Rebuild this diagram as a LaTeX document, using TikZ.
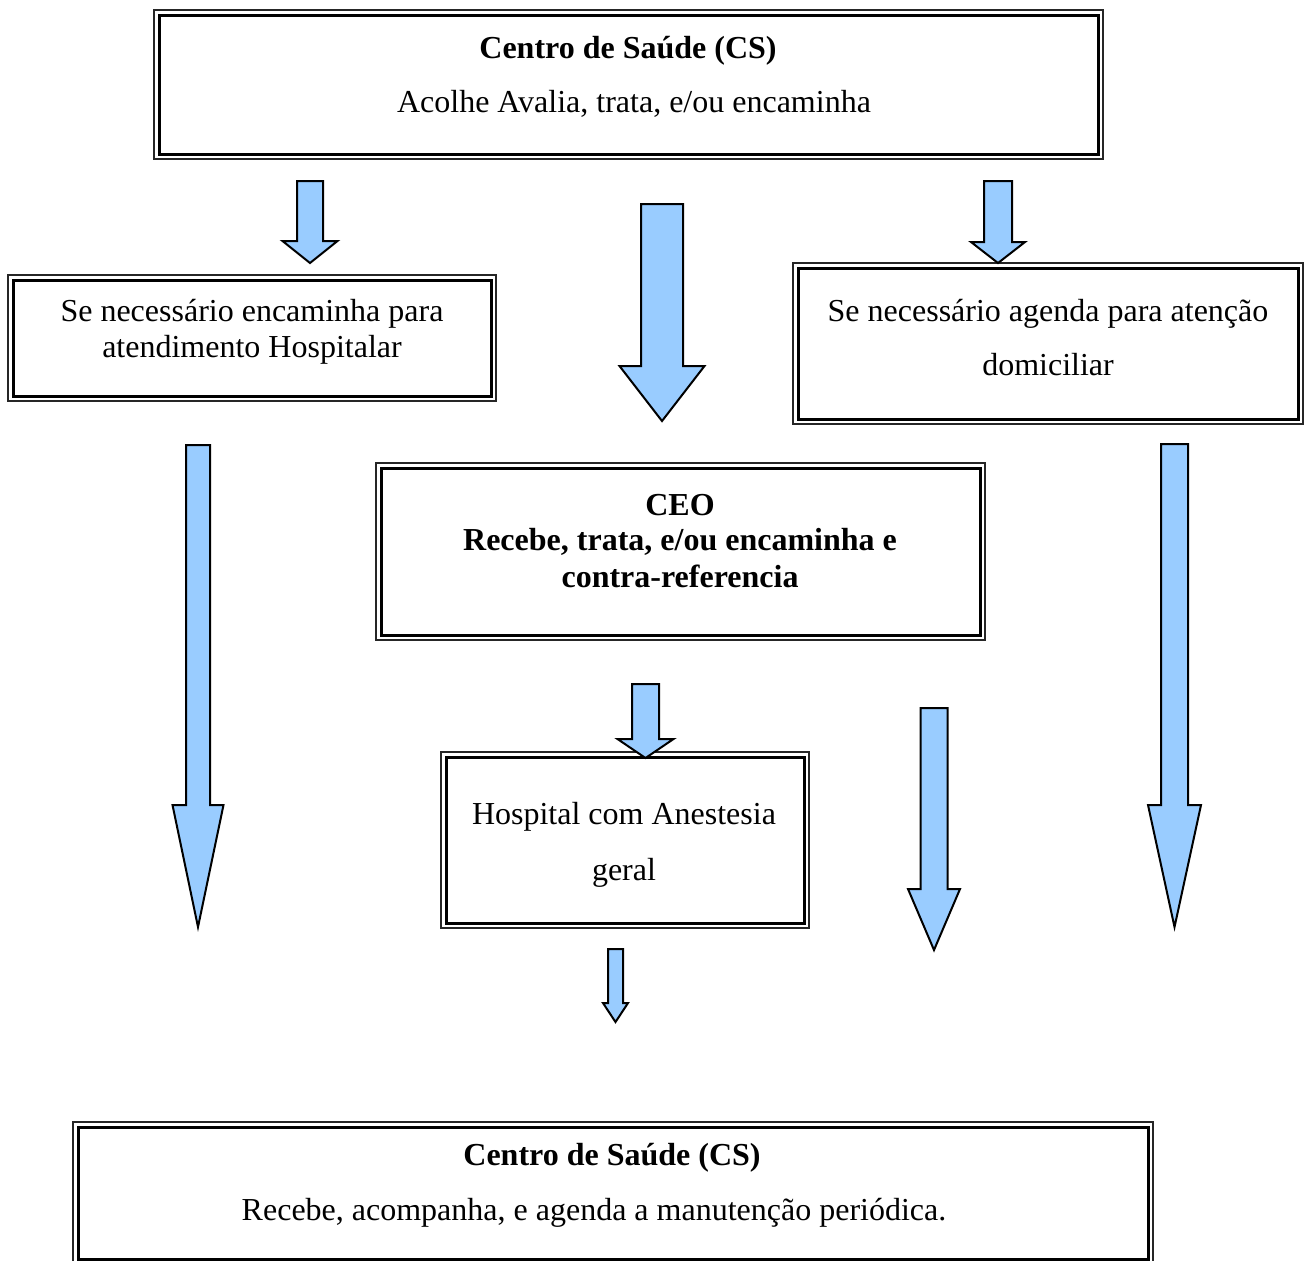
\documentclass[tikz,border=0pt]{standalone}
\usepackage{fontspec}
\setmainfont{Liberation Serif}
\usetikzlibrary{fit}
\definecolor{arrowblue}{HTML}{99CCFF}
\tikzset{
  frame/.style={draw=black!85, line width=1pt, inner sep=0pt},
  innerframe/.style={draw=black, line width=1.5pt},
  txt/.style={anchor=base, inner sep=0pt, font=\fontsize{16pt}{19pt}\selectfont},
  btxt/.style={anchor=base, inner sep=0pt, font=\fontsize{16pt}{19pt}\selectfont\bfseries},
  blockarrow/.style={fill=arrowblue, draw=black, line width=1pt, line join=miter},
}
% block arrow pointing down: centre x, top y, half shaft, half head, head start y, tip y
\newcommand\downblock[7]{%
  \draw[blockarrow] ({#2-#4},#3) -- ({#2+#4},#3) -- ({#2+#4},#6) -- ({#2+#5},#6)
    -- (#2,#7) coordinate (#1) -- ({#2-#5},#6) -- ({#2-#4},#6) -- cycle;}
\begin{document}
\begin{tikzpicture}[x=0.5pt,y=-0.5pt]
\useasboundingbox[fill=white] (0,0) rectangle (1304,1260);

% framed boxes
\node[frame, fit={(154,10) (1103,159)}] (cs1) {};
\node[frame, fit={(8,275) (496,401)}] (hosp) {};
\node[frame, fit={(793,263) (1303,424)}] (dom) {};
\node[frame, fit={(376,463) (985,640)}] (ceo) {};
\node[frame, fit={(441,752) (809,928)}] (anest) {};
\node[frame, fit={(73,1122) (1153,1264)}] (cs2) {};
\foreach \n in {cs1,hosp,dom,ceo,anest,cs2}
  \draw[innerframe] ([shift={(3pt,-3pt)}]\n.north west) rectangle ([shift={(-3pt,3pt)}]\n.south east);

% texts
\node[btxt] (cs1a) at (628,58) {Centro de Saúde (CS)};
\node[txt] (cs1b) at (634,112) {Acolhe Avalia, trata, e/ou encaminha};
\node[txt] (hospa) at (252,321) {Se necessário encaminha para};
\node[txt] (hospb) at (252,357) {atendimento Hospitalar};
\node[txt] (doma) at (1048,321) {Se necessário agenda para atenção};
\node[txt] (domb) at (1048,375) {domiciliar};
\node[btxt] (ceoa) at (680,515) {CEO};
\node[btxt] (ceob) at (680,550) {Recebe, trata, e/ou encaminha e};
\node[btxt] (ceoc) at (680,587) {contra-referencia};
\node[txt] (anesta) at (624,824) {Hospital com Anestesia};
\node[txt] (anestb) at (624,880) {geral};
\node[btxt] (cs2a) at (612,1165) {Centro de Saúde (CS)};
\node[txt] (cs2b) at (594,1220) {Recebe, acompanha, e agenda a manutenção periódica.};

% block arrows
\downblock{t1}{310}{181}{13}{27.5}{241}{263}
\downblock{t2}{662}{204}{21}{42.5}{366}{421}
\downblock{t3}{998}{181}{14}{27}{242}{263}
\downblock{t4}{198}{445}{12}{25.5}{805}{927}
\downblock{t5}{1174.5}{444}{13.5}{26.5}{805}{927}
\downblock{t6}{645.5}{684}{13.5}{28}{739}{758}
\downblock{t7}{934}{708}{13.5}{26}{889}{950}
\downblock{t8}{615.5}{949}{7.5}{12.5}{1003}{1022}
\end{tikzpicture}
\end{document}
